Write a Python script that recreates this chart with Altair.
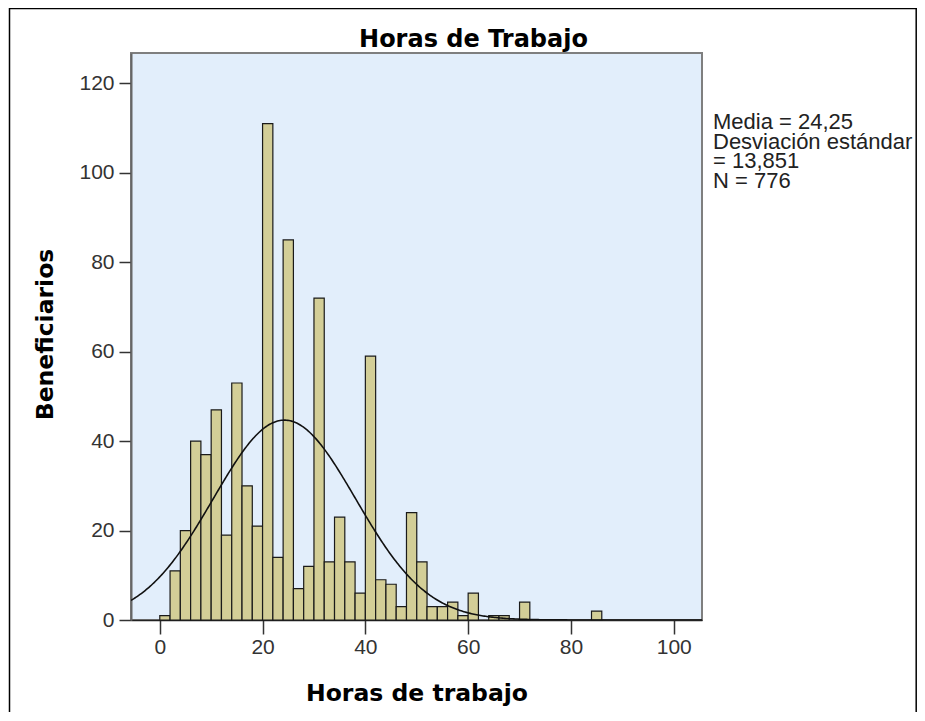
import altair as alt
import pandas as pd

# ---- data ----
bin_starts = [0, 2, 4, 6, 8, 10, 12, 14, 16, 18, 20, 22, 24, 26, 28, 30, 32, 34,
              36, 38, 40, 42, 44, 46, 48, 50, 52, 54, 56, 58, 60, 64, 66, 70, 84]
counts = [1, 11, 20, 40, 37, 47, 19, 53, 30, 21, 111, 14, 85, 7, 12, 72, 13, 23,
          13, 6, 59, 9, 8, 3, 24, 13, 3, 3, 4, 1, 6, 1, 1, 4, 2]
bin_width = 2
mean_val = 24.25
sd_val = 13.851
n_val = 776
x_ticks = [0, 20, 40, 60, 80, 100]
y_ticks = [0, 20, 40, 60, 80, 100, 120]
x_domain = [-5.6, 105.5]
y_domain = [0, 126.8]

title_text = "Horas de Trabajo"
x_title = "Horas de trabajo"
y_title = "Beneficiarios"
stats_lines = [
    "Media = " + f"{mean_val:.2f}".replace(".", ","),
    "Desviación estándar",
    "= " + f"{sd_val:.3f}".replace(".", ","),
    f"N = {n_val}",
]

bars_df = pd.DataFrame({"start": bin_starts, "count": counts})

FONT = "Liberation Sans"
BOLD_FONT = "DejaVu Sans"
W, H = 571, 567

xscale = alt.Scale(domain=x_domain, nice=False, zero=False)
yscale = alt.Scale(domain=y_domain, nice=False)

bars = alt.Chart(bars_df).mark_bar(
    fill="#D3CE97", stroke="#1a1a1a", strokeWidth=1.2
).transform_calculate(
    end=f"datum.start + {bin_width}"
).encode(
    x=alt.X("start:Q", scale=xscale,
            axis=alt.Axis(values=x_ticks, title=x_title, grid=False,
                          labelFontSize=21, labelColor="#333333", labelFont=FONT,
                          tickSize=14, tickWidth=1.5, tickColor="#333333",
                          labelPadding=2, domainColor="#222222", domainWidth=1.5,
                          titleFont=BOLD_FONT, titleFontSize=23.5, titleFontWeight="bold",
                          titleColor="black", titleY=80, titleBaseline="alphabetic")),
    x2="end:Q",
    y=alt.Y("count:Q", scale=yscale,
            axis=alt.Axis(values=y_ticks, title=y_title, grid=False,
                          labelFontSize=21, labelColor="#333333", labelFont=FONT,
                          tickSize=12, tickWidth=1.5, tickColor="#333333",
                          labelPadding=5, domainColor="#666666", domainWidth=2,
                          titleFont=BOLD_FONT, titleFontSize=23.5, titleFontWeight="bold",
                          titleColor="black", titleX=-86, titleY=281,
                          titleAngle=270, titleBaseline="middle", titleAlign="center")),
    y2=alt.datum(0),
)

curve = alt.Chart(
    alt.sequence(x_domain[0], x_domain[1] + 0.25, 0.25, as_="x")
).transform_calculate(
    y=f"{n_val} * {bin_width} / ({sd_val} * sqrt(2 * PI)) * exp(-0.5 * pow((datum.x - {mean_val}) / {sd_val}, 2))"
).mark_line(color="#111111", strokeWidth=1.6, clip=True).encode(
    x=alt.X("x:Q", scale=xscale),
    y=alt.Y("y:Q", scale=yscale),
)

one = alt.Data(values=[{}])

stats = alt.Chart(one).mark_text(
    align="left", baseline="alphabetic", font=FONT, fontSize=22,
    lineHeight=19.5, color="#222222"
).encode(
    x=alt.value(582), y=alt.value(76), text=alt.value(stats_lines)
)

title = alt.Chart(one).mark_text(
    align="center", baseline="alphabetic", font=BOLD_FONT, fontSize=24,
    fontWeight="bold", color="black"
).encode(
    x=alt.value(342.5), y=alt.value(-6), text=alt.value(title_text)
)

frame_top = alt.Chart(one).mark_rule(color="black", strokeWidth=1.5).encode(
    x=alt.value(-122), x2=alt.value(786), y=alt.value(-44.5))
frame_left = alt.Chart(one).mark_rule(color="black", strokeWidth=1.5).encode(
    x=alt.value(-121.5), y=alt.value(-45), y2=alt.value(700))
frame_right = alt.Chart(one).mark_rule(color="black", strokeWidth=1.5).encode(
    x=alt.value(785.2), y=alt.value(-45), y2=alt.value(700))

chart = alt.layer(bars, curve, stats, title, frame_top, frame_left, frame_right).properties(
    width=W, height=H,
    autosize=alt.AutoSizeParams(type="none"),
    padding={"left": 123, "top": 45, "right": 215, "bottom": 92},
    background="white",
).configure_view(
    fill="#E2EEFB", stroke="#7f7f7f", strokeWidth=2
)

chart.save("out.html", embed_options={"renderer": "svg", "actions": False})
